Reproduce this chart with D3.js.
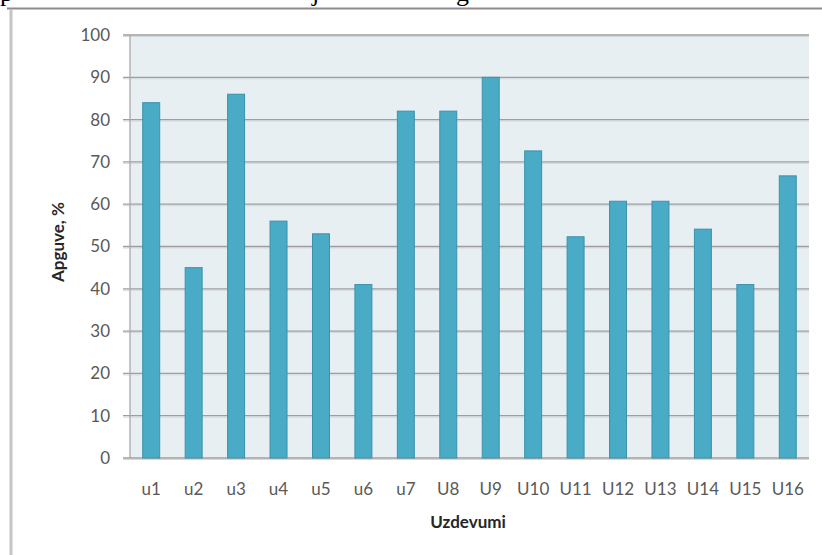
<!DOCTYPE html>
<html>
<head>
<meta charset="utf-8">
<script src="https://cdn.jsdelivr.net/npm/d3@7"></script>
<style>
  html, body { margin: 0; padding: 0; background: #fff; }
  svg { display: block; }
</style>
</head>
<body>
<svg id="chart" width="822" height="555"></svg>
<script>
// task labels and success rate (%)
const categories = ['u1', 'u2', 'u3', 'u4', 'u5', 'u6', 'u7', 'U8', 'U9', 'U10',
  'U11', 'U12', 'U13', 'U14', 'U15', 'U16'];
const values = [84, 45, 86, 56, 53, 41, 82, 82, 90, 72.6, 52.3, 60.7, 60.7, 54.1, 41, 66.7];
const yTicks = [0, 10, 20, 30, 40, 50, 60, 70, 80, 90, 100];

const svg = d3.select('#chart');
const margin = { top: 35, right: 13, bottom: 97, left: 130 };
const width = 822 - margin.left - margin.right;
const height = 555 - margin.top - margin.bottom;

// page frame and the cut-off text line above it
svg.append('line')
  .attr('x1', 7).attr('x2', 822).attr('y1', 8.5).attr('y2', 8.5)
  .attr('stroke', '#8c8c8c').attr('stroke-width', 2);
svg.append('line')
  .attr('x1', 11).attr('x2', 11).attr('y1', 9).attr('y2', 555)
  .attr('stroke', '#c4c4c4').attr('stroke-width', 3);
const topText = svg.append('g')
  .style('font-family', '"Liberation Serif", "DejaVu Serif", serif')
  .style('font-size', '26px');
[['p', 0], ['j', 312], ['g', 456]].forEach(([ch, x]) => {
  topText.append('text').attr('x', x).attr('y', 1).text(ch);
});

const g = svg.append('g').attr('transform', `translate(${margin.left},${margin.top})`);

const x = d3.scaleBand().domain(categories).range([0, width])
  .paddingInner(0.6).paddingOuter(0.3);
const y = d3.scaleLinear().domain([0, 100]).range([height, 0]);

g.append('rect')
  .attr('width', width).attr('height', height)
  .attr('fill', '#e8eff3');

// gridlines with tick stubs
const grid = g.append('g').attr('class', 'grid');
grid.selectAll('line.shadow')
  .data(yTicks)
  .join('line')
  .attr('class', 'shadow')
  .attr('x1', -7).attr('x2', width)
  .attr('y1', d => y(d) + 1.5).attr('y2', d => y(d) + 1.5)
  .attr('stroke', '#d3d9dd').attr('stroke-width', 1);
grid.selectAll('line.main')
  .data(yTicks)
  .join('line')
  .attr('class', 'main')
  .attr('x1', -7).attr('x2', width)
  .attr('y1', d => y(d)).attr('y2', d => y(d))
  .attr('stroke', '#9e9e9e').attr('stroke-width', 1.3);

g.append('line')
  .attr('x1', 0).attr('x2', 0).attr('y1', 0).attr('y2', height)
  .attr('stroke', '#a8a8a8').attr('stroke-width', 1.3);

// bars
g.selectAll('rect.bar')
  .data(values)
  .join('rect')
  .attr('class', 'bar')
  .attr('x', (d, i) => x(categories[i]))
  .attr('y', d => y(d))
  .attr('width', x.bandwidth())
  .attr('height', d => height - y(d))
  .attr('fill', '#4aabc6')
  .attr('stroke', '#3b92aa')
  .attr('stroke-width', 1);

// y axis labels
const yAxis = g.append('g')
  .call(d3.axisLeft(y).tickValues(yTicks).tickSize(0).tickPadding(20));
yAxis.select('.domain').remove();
yAxis.selectAll('text')
  .style('font-family', 'Lato, "Open Sans", sans-serif')
  .style('font-size', '17px')
  .attr('fill', '#595959');

// x axis labels
const xAxis = g.append('g')
  .attr('transform', `translate(0,${height})`)
  .call(d3.axisBottom(x).tickSize(0).tickPadding(25));
xAxis.select('.domain').remove();
xAxis.selectAll('text')
  .style('font-family', 'Lato, "Open Sans", sans-serif')
  .style('font-size', '17px')
  .attr('fill', '#595959');

// axis titles
svg.append('text')
  .attr('x', 468).attr('y', 528)
  .attr('text-anchor', 'middle')
  .style('font-family', 'Lato, "Open Sans", sans-serif')
  .style('font-size', '17px')
  .style('font-weight', 'bold')
  .attr('fill', '#262626')
  .text('Uzdevumi');

svg.append('text')
  .attr('transform', 'translate(64,242) rotate(-90)')
  .attr('text-anchor', 'middle')
  .style('font-family', 'Lato, "Open Sans", sans-serif')
  .style('font-size', '17px')
  .style('font-weight', 'bold')
  .attr('fill', '#262626')
  .text('Apguve, %');
</script>
</body>
</html>
